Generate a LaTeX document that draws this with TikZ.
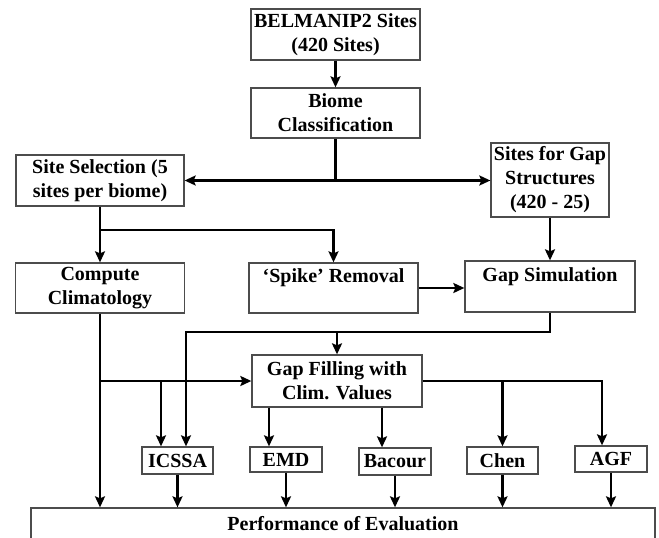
\documentclass[tikz,border=0pt]{standalone}
\usepackage{fontspec}
\setmainfont{Liberation Serif}
\usetikzlibrary{arrows.meta}

\begin{document}
\begin{tikzpicture}[x=1pt, y=-1pt, inner sep=0pt,
		box/.style={draw=black!70, line width=1.3pt, align=center, font=\fontsize{20}{24}\selectfont\bfseries},
		ln/.style={line width=2.2pt},
		arr/.style={line width=2.2pt, -{Stealth[length=11pt, width=10pt, inset=2pt]}},
		arrboth/.style={line width=2.2pt, {Stealth[length=11pt, width=10pt, inset=2pt]}-{Stealth[length=11pt, width=10pt, inset=2pt]}}]
	\useasboundingbox (0,0) rectangle (659,538);
	\node[box, minimum width=169pt, minimum height=51pt] (belmanip) at (335.5, 34.5) {BELMANIP2 Sites\\(420 Sites)};
	\node[box, minimum width=169pt, minimum height=50pt] (biome) at (335.5, 113) {Biome\\Classification};
	\node[box, minimum width=168pt, minimum height=51pt] (sitesel) at (100, 180.5) {Site Selection (5\\sites per biome)};
	\node[box, minimum width=118pt, minimum height=74pt] (gapsites) at (550, 180) {Sites for Gap\\Structures\\(420 - 25)};
	\node[box, minimum width=169pt, minimum height=50pt] (climat) at (100, 288) {Compute\\Climatology};
	\node[box, minimum width=169pt, minimum height=50pt] (spike) at (333.5, 288) {‘Spike’ Removal\\~};
	\node[box, minimum width=170pt, minimum height=51pt] (gapsim) at (550, 286.5) {Gap Simulation\\~};
	\node[box, minimum width=170pt, minimum height=52pt] (gapfill) at (337, 381) {Gap Filling with\\Clim. Values};
	\node[box, minimum width=71pt, minimum height=27pt] (icssa) at (177.5, 460.5) {ICSSA};
	\node[box, minimum width=72pt, minimum height=25pt] (emd) at (286, 459.5) {EMD};
	\node[box, minimum width=72pt, minimum height=27pt] (bacour) at (395, 461.5) {Bacour};
	\node[box, minimum width=71pt, minimum height=27pt] (chen) at (502.5, 460.5) {Chen};
	\node[box, minimum width=72pt, minimum height=26pt] (agf) at (611, 459) {AGF};
	\node[box, minimum width=624pt, minimum height=32pt] (perf) at (343, 524) {Performance of Evaluation};

	\coordinate (split1) at (biome.south |- sitesel.east);
	\coordinate (split2) at (100, 230);
	\coordinate (split3) at (550, 332);
	\coordinate (split4) at (100, 381);

	\draw[arr] (belmanip) -- (biome);
	\draw[ln] (biome.south) -- (split1);
	\draw[arrboth] (sitesel.east) -- (sitesel.east -| gapsites.west);
	\draw[arr] (sitesel.south) -- (climat.north);
	\draw[arr] (split2) -| (spike.north);
	\draw[arr] (gapsites) -- (gapsim);
	\draw[arr] (spike.east) -- (spike.east -| gapsim.west);
	\draw[arr] (gapsim.south) -- (split3) -| ([xshift=8.5pt]icssa.north);
	\draw[arr] (split3 -| gapfill.north) -- (gapfill.north);
	\draw[arr] (climat.south) -- (climat.south |- perf.north);
	\draw[arr] (split4) -- (split4 -| gapfill.west);
	\draw[arr] ([xshift=-16.5pt]icssa.north |- split4) -- ([xshift=-16.5pt]icssa.north);
	\draw[arr] (gapfill.east) -| ([xshift=-9pt]agf.north);
	\draw[arr] (gapfill.east -| chen.north) -- (chen.north);
	\draw[arr] ([xshift=-68pt]gapfill.south) -- ([xshift=-68pt]gapfill.south |- emd.north);
	\draw[arr] ([xshift=45pt]gapfill.south) -- ([xshift=45pt]gapfill.south |- bacour.north);
	\foreach \m in {icssa, emd, bacour, chen, agf}
		\draw[arr] (\m.south) -- (\m.south |- perf.north);
\end{tikzpicture}
\end{document}
